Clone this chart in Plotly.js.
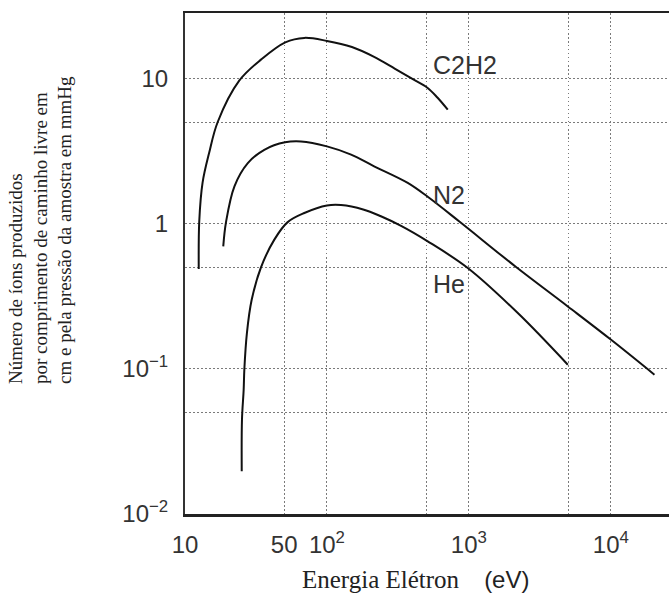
<!DOCTYPE html>
<html>
<head>
<meta charset="utf-8">
<script src="https://cdn.plot.ly/plotly-3.0.1.min.js"></script>
<style>html,body{margin:0;padding:0;background:#fff;overflow:hidden}</style>
</head>
<body>
<div id="chart" style="width:669px;height:593px"></div>
<script>
// Electron energy (eV) and ions produced per cm per mmHg
const energyC2H2 = [12.5, 12.6, 13.3, 14.8, 17.0, 24.1, 34.3, 50.9, 69.3, 100, 150, 215, 300, 400, 510, 600, 710];
const ionsC2H2   = [0.49, 1.04, 1.93, 3.10, 5.05, 9.73, 13.6, 17.9, 19.2, 18.3, 16.6, 14.2, 11.8, 10.0, 8.7, 7.45, 6.14];

const energyN2 = [18.6, 19.45, 22.3, 27.7, 36.2, 50.7, 65.7, 100, 148, 215, 371, 513, 857, 2150, 4980, 10050, 20300];
const ionsN2   = [0.70, 1.03, 1.82, 2.63, 3.25, 3.66, 3.71, 3.43, 3.01, 2.50, 1.92, 1.54, 1.04, 0.505, 0.270, 0.159, 0.0914];

const energyHe = [25.1, 25.2, 25.9, 26.2, 27.3, 29.5, 34.3, 42.6, 52.9, 69.3, 100, 125.6, 180, 240, 333, 513, 982, 2212, 4980];
const ionsHe   = [0.0197, 0.0447, 0.072, 0.100, 0.177, 0.30, 0.502, 0.78, 1.03, 1.19, 1.34, 1.35, 1.26, 1.13, 0.97, 0.759, 0.497, 0.243, 0.107];

const seriesNames = ['C2H2', 'N2', 'He'];

const xTickVals = [10, 50, 100, 1000, 10000];
const xTickText = ['10', '50', '10<sup>2</sup>', '10<sup>3</sup>', '10<sup>4</sup>'];
const xMinorVals = [500, 5000];
const yTickVals = [0.01, 0.1, 1, 10];
const yTickText = ['10<sup>\u22122</sup>', '10<sup>\u22121</sup>', '1', '10'];
const yMinorVals = [0.05, 0.5, 5];

const W = 669, H = 593;
const mL = 185, mR = 0, mT = 13, mB = 79;
const pw = W - mL - mR, ph = H - mT - mB;
const px = v => (v - mL) / pw;
const py = v => (H - mB - v) / ph;

const lineStyle = {color: '#111', width: 2, shape: 'spline', smoothing: 1};
const traces = [
  {x: energyC2H2, y: ionsC2H2, name: seriesNames[0]},
  {x: energyN2, y: ionsN2, name: seriesNames[1]},
  {x: energyHe, y: ionsHe, name: seriesNames[2]}
].map(t => Object.assign(t, {type: 'scatter', mode: 'lines', line: lineStyle, hoverinfo: 'x+y+name'}));

const grid = {gridcolor: '#7a7a7a', gridwidth: 1, griddash: '1.5px,2.5px'};
const tickFont = {family: 'Liberation Sans, Arial, sans-serif', size: 24, color: '#333'};

const layout = {
  width: W, height: H,
  margin: {l: mL, r: mR, t: mT, b: mB},
  paper_bgcolor: '#fff', plot_bgcolor: '#fff',
  showlegend: false,
  xaxis: Object.assign({
    type: 'log', range: [1, 4.41],
    tickmode: 'array', tickvals: xTickVals, ticktext: xTickText,
    ticks: '', showgrid: true, zeroline: false,
    showline: true, linecolor: '#222', linewidth: 2.5, mirror: true,
    tickfont: tickFont, ticklabelstandoff: 8,
    minor: Object.assign({tickmode: 'array', tickvals: xMinorVals, ticks: '', showgrid: true}, grid)
  }, grid),
  yaxis: Object.assign({
    type: 'log', range: [-2, 1.455],
    tickmode: 'array', tickvals: yTickVals, ticktext: yTickText,
    ticks: '', showgrid: true, zeroline: false,
    showline: true, linecolor: '#333', linewidth: 2, mirror: false,
    tickfont: tickFont, ticklabelstandoff: 10,
    minor: Object.assign({tickmode: 'array', tickvals: yMinorVals, ticks: '', showgrid: true}, grid)
  }, grid),
  annotations: [
    {xref: 'paper', yref: 'paper', x: px(431), y: py(65), xanchor: 'left', yanchor: 'middle',
     text: seriesNames[0], showarrow: false, font: {family: 'Liberation Sans, Arial, sans-serif', size: 25, color: '#333'}},
    {xref: 'paper', yref: 'paper', x: px(431), y: py(195), xanchor: 'left', yanchor: 'middle',
     text: seriesNames[1], showarrow: false, font: {family: 'Liberation Sans, Arial, sans-serif', size: 25, color: '#333'}},
    {xref: 'paper', yref: 'paper', x: px(431), y: py(284), xanchor: 'left', yanchor: 'middle',
     text: seriesNames[2], showarrow: false, font: {family: 'Liberation Sans, Arial, sans-serif', size: 25, color: '#333'}},
    {xref: 'paper', yref: 'paper', x: px(300), y: py(579), xanchor: 'left', yanchor: 'middle',
     text: 'Energia Elétron\u00a0\u00a0\u00a0\u00a0<span style="font-family:Liberation Sans, Arial, sans-serif;font-size:24px">(eV)</span>',
     showarrow: false, font: {family: 'Liberation Serif, Times New Roman, serif', size: 25, color: '#222'}},
    {xref: 'paper', yref: 'paper', x: px(40), y: py(386), xanchor: 'center', yanchor: 'bottom',
     textangle: -90, align: 'left',
     text: 'Número de íons produzidos<br>por comprimento de caminho livre em<br>cm e pela pressão da amostra em mmHg',
     showarrow: false, font: {family: 'Liberation Serif, Times New Roman, serif', size: 19, color: '#222'}}
  ]
};

Plotly.newPlot('chart', traces, layout, {displayModeBar: false, staticPlot: true});
</script>
</body>
</html>
